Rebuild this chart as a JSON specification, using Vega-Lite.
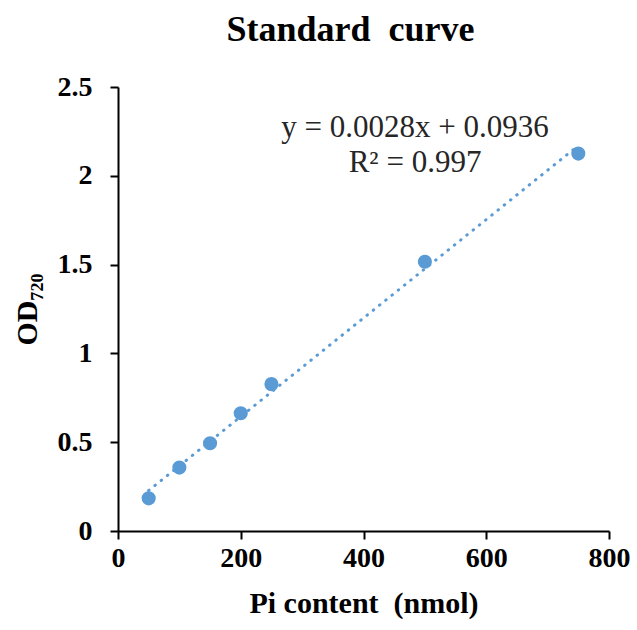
{
  "$schema": "https://vega.github.io/schema/vega-lite/v6.json",
  "autosize": "none",
  "width": 491,
  "height": 444,
  "padding": {"left": 118, "top": 87, "right": 28, "bottom": 99},
  "background": "white",
  "title": {
    "text": "Standard\u00a0\u00a0curve",
    "font": "Liberation Serif",
    "fontSize": 36,
    "fontWeight": "bold",
    "color": "black",
    "anchor": "middle",
    "dx": -13,
    "offset": 24
  },
  "config": {
    "view": {"stroke": null},
    "axis": {
      "domainColor": "black",
      "domainWidth": 2,
      "tickColor": "black",
      "tickWidth": 2,
      "tickSize": 8,
      "grid": false,
      "labelFont": "Liberation Serif",
      "labelFontWeight": "bold",
      "labelFontSize": 28,
      "labelColor": "black",
      "titleFont": "Liberation Serif",
      "titleFontWeight": "bold",
      "titleFontSize": 30,
      "titleColor": "black"
    }
  },
  "datasets": {
    "points": [
      {"pi": 50, "od": 0.184},
      {"pi": 100, "od": 0.357},
      {"pi": 150, "od": 0.494},
      {"pi": 200, "od": 0.663},
      {"pi": 250, "od": 0.827},
      {"pi": 500, "od": 1.516},
      {"pi": 750, "od": 2.125}
    ],
    "trend": [
      {"pi": 50, "od": 0.228},
      {"pi": 750, "od": 2.17}
    ]
  },
  "layer": [
    {
      "data": {"name": "trend"},
      "mark": {"type": "line", "color": "#5B9BD5", "strokeWidth": 3, "strokeDash": [0.5, 7.5], "strokeCap": "round"},
      "encoding": {
        "x": {"field": "pi", "type": "quantitative", "scale": {"domain": [0, 800], "nice": false},
          "axis": {"values": [0, 200, 400, 600, 800], "format": "d", "title": "Pi\u00a0content\u00a0\u00a0(nmol)", "labelPadding": 5, "titlePadding": 16, "labelFlush": false}},
        "y": {"field": "od", "type": "quantitative", "scale": {"domain": [0, 2.5], "nice": false},
          "axis": {"values": [0, 0.5, 1, 1.5, 2, 2.5], "format": "~g", "title": "OD₇₂₀", "labelPadding": 18, "titlePadding": 15, "labelFlush": false}}
      }
    },
    {
      "data": {"name": "points"},
      "mark": {"type": "circle", "color": "#5B9BD5", "size": 200, "opacity": 1},
      "encoding": {
        "x": {"field": "pi", "type": "quantitative"},
        "y": {"field": "od", "type": "quantitative"}
      }
    },
    {
      "data": {"values": [{}]},
      "mark": {"type": "text", "font": "Liberation Serif", "fontSize": 31, "color": "#262626", "align": "center", "baseline": "middle", "lineHeight": 35},
      "encoding": {
        "x": {"datum": 484, "type": "quantitative"},
        "y": {"datum": 2.27, "type": "quantitative"},
        "text": {"value": ["y = 0.0028x + 0.0936", "R² = 0.997"]}
      }
    }
  ]
}
